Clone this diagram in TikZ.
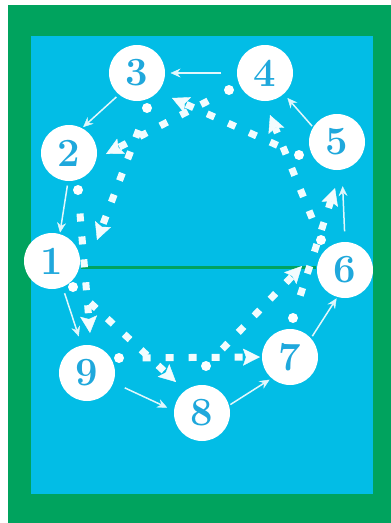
\documentclass[tikz,border=0pt]{standalone}
\usetikzlibrary{arrows.meta}
\definecolor{cgreen}{HTML}{00A35E}
\definecolor{ccourt}{HTML}{02BDE6}
\definecolor{cnum}{HTML}{1FA8DC}
\tikzset{
  every picture/.style={line width=1.2pt},
  player/.style={circle, fill=white, minimum size=56pt, inner sep=0pt, text=cnum, font=\fontsize{40}{40}\selectfont\bfseries},
  spotdot/.style={circle, fill=white, minimum size=10pt, inner sep=0pt},
  passarrow/.style={-{Stealth[length=10pt, width=9pt, inset=3.5pt, line width=0.4pt]}, draw=white!88!ccourt, line width=1.5pt},
  runarrow/.style={-{Stealth[length=17pt, width=17pt, inset=3pt, line width=0.4pt]}, draw=white!95!ccourt, line width=7pt, dash pattern=on 8pt off 15pt, shorten <=18pt},
  netline/.style={draw=cgreen, line width=3pt},
}
\begin{document}
\begin{tikzpicture}[x=1pt, y=-1pt]
  \useasboundingbox (0,0) rectangle (391,523);
  % field
  \fill[white] (0,0) rectangle (391,523);
  \fill[cgreen] (8,5) rectangle (391,523);
  \fill[ccourt] (31,36) rectangle (373,494);
  % players
  \foreach \n/\x/\y in {1/52/261, 2/69/153, 3/137/73, 4/265/73, 5/337/142,
                        6/345/270, 7/290/357, 8/202/413, 9/87/373}
    \node[player] (c\n) at (\x,\y) {\n};
  \coordinate (net) at (0,267);
  \draw[netline] (c1.east |- net) -- (c6.west |- net);
  % start spots and run ends
  \foreach \n/\x/\y in {1/73/287, 2/78/190, 3/147/108, 4/229/90, 5/299/155,
                        6/321/240, 7/293/318, 8/206/366, 9/119/358}
    \node[spotdot] (d\n) at (\x,\y) {};
  \foreach \n/\x/\y in {1/176/382, 2/90/333, 3/97/240, 4/106/154, 5/172/98,
                        6/270/115, 7/335/188, 8/302/266, 9/260/357}
    \coordinate (t\n) at (\x,\y);
  \foreach \n in {1,...,9}
    \draw[runarrow] (d\n) -- (t\n);
  % rotation
  \foreach \a/\b/\p/\q/\s/\e in {4/3/180/0/15/5, 3/2/230/62/3/1, 2/1/268/74/4/1,
                                 1/9/292/101/6/9, 9/8/340/175/12/7, 8/7/16/229/1/2,
                                 7/6/42/254/2/1, 6/5/90/280/10/16, 5/4/148/312/1/5}
    \draw[passarrow, shorten <=\s pt, shorten >=\e pt] (c\a.\p) -- (c\b.\q);
\end{tikzpicture}
\end{document}
